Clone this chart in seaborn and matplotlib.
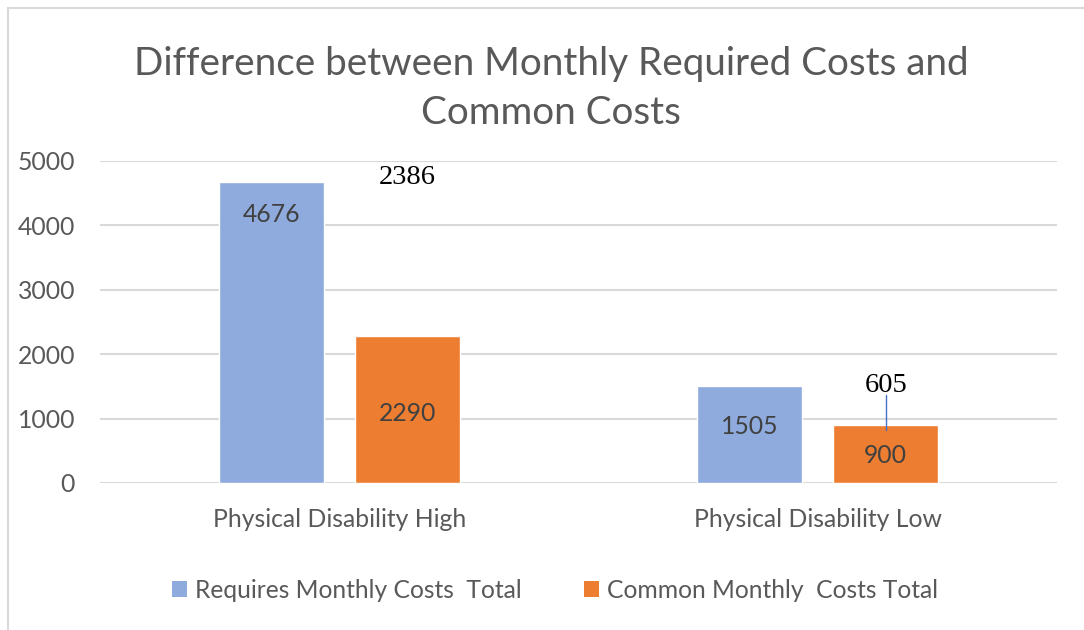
import matplotlib
matplotlib.use('Agg')
import matplotlib.pyplot as plt
import seaborn as sns
import pandas as pd
from matplotlib.patches import Patch, Rectangle

# 데이터
categories = ['Physical Disability High', 'Physical Disability Low']
series_names = ['Requires Monthly Costs  Total', 'Common Monthly  Costs Total']
required_costs = [4676, 1505]
common_costs = [2290, 900]
difference = [2386, 605]

df = pd.DataFrame({
    'category': categories * 2,
    'series': [series_names[0]] * 2 + [series_names[1]] * 2,
    'value': required_costs + common_costs,
})

sns.set_theme(style='white')
plt.rcParams['font.family'] = ['Lato', 'DejaVu Sans']

colors = ['#8FAADC', '#ED7D31']
text_gray = '#595959'
label_gray = '#404040'
grid_gray = '#D9D9D9'

fig = plt.figure(figsize=(10.84, 6.3), dpi=100)
ax = fig.add_axes([100 / 1084, 1 - 483 / 630, 957 / 1084, 322 / 630])

sns.barplot(data=df, x='category', y='value', hue='series', palette=colors,
            width=0.568, gap=0.228, saturation=1, legend=False, ax=ax)

ax.set_ylim(0, 5000)
ax.set_xlim(-0.5, 1.5)
ax.set_yticks(range(0, 5001, 1000))
ax.yaxis.grid(True, color=grid_gray, linewidth=1.5)
ax.set_axisbelow(True)
for s in ax.spines.values():
    s.set_visible(False)
ax.tick_params(axis='both', length=0, labelsize=17.8, colors=text_gray)
ax.tick_params(axis='y', pad=18)
ax.tick_params(axis='x', pad=18)
ax.set_xlabel('')
ax.set_ylabel('')

# 막대 안쪽 라벨 (막대 높이에 대한 비율 위치)
label_frac = {0: 0.89, 1: 0.47, 2: 0.58, 3: 0.48}
patches = [p for p in ax.patches if p.get_height() > 0]
patches = sorted(patches, key=lambda p: p.get_x())
for i, p in enumerate(patches):
    h = p.get_height()
    ax.text(p.get_x() + p.get_width() / 2, h * label_frac[i], f'{int(round(h))}',
            ha='center', va='center', fontsize=17.8, color=label_gray)

# 차이 라벨 (주황 막대 위)
orange = sorted([p for p in patches if abs(p.get_facecolor()[0] - 0.929) < 0.02], key=lambda p: p.get_x())
diff_y = [4750, 1520]
for k, p in enumerate(orange):
    cx = p.get_x() + p.get_width() / 2
    ax.text(cx, diff_y[k], f'{difference[k]}', ha='center', va='center',
            fontsize=20.5, color='black', family=['Liberation Serif'])
# 605 지시선
p = orange[1]
cx = p.get_x() + p.get_width() / 2
ax.plot([cx, cx], [p.get_height() - 80, 1370], color='#4472C4', linewidth=1)

fig.suptitle('Difference between Monthly Required Costs and\nCommon Costs',
             x=551 / 1084, y=1 - 46 / 630, va='top', fontsize=27.8, color=text_gray,
             linespacing=1.44)

handles = [Patch(facecolor=c, edgecolor='none') for c in colors]
fig.legend(handles, series_names, loc='center', bbox_to_anchor=(555 / 1084, 1 - 590 / 630),
           ncol=2, frameon=False, fontsize=17.7, handlelength=0.61, handleheight=0.61,
           handletextpad=0.33, columnspacing=2.5, labelcolor=text_gray)

# 차트 테두리
fig.patches.append(Rectangle((8 / 1084, -0.1), 1.2, 1 - 8 / 630 + 0.1, transform=fig.transFigure,
                             fill=False, edgecolor=grid_gray, linewidth=1.5))

fig.savefig('out.png', dpi=100)
